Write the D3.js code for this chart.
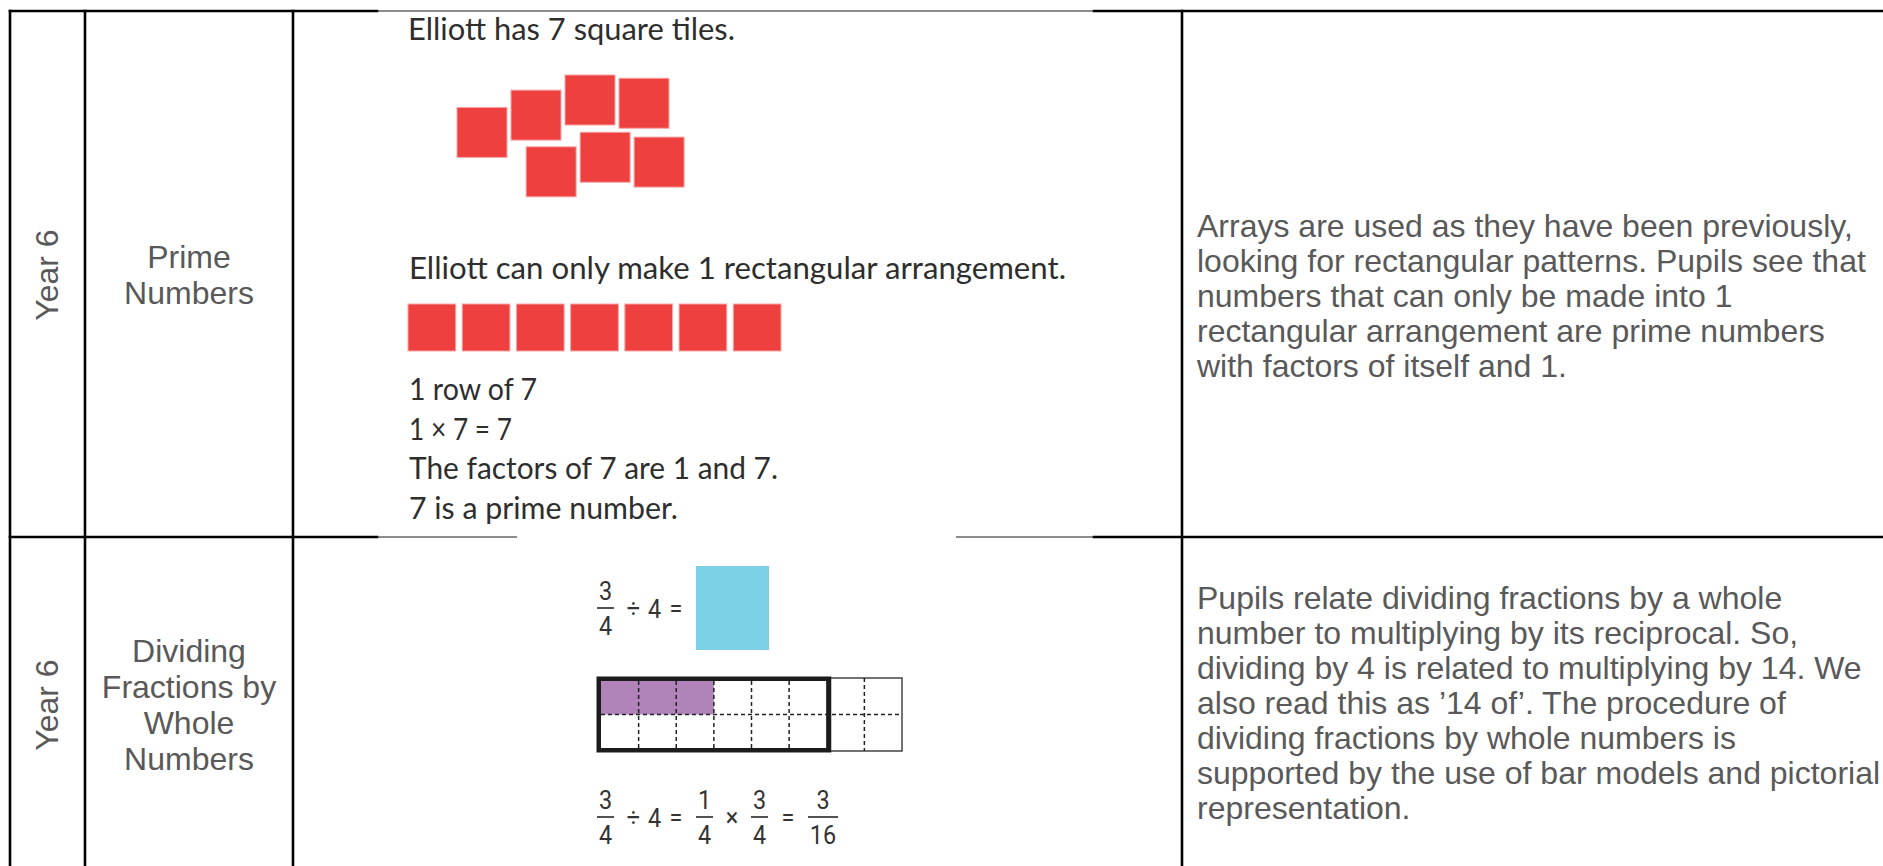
<!DOCTYPE html>
<html>
<head>
<meta charset="utf-8">
<script src="https://cdn.jsdelivr.net/npm/d3@7"></script>
<style>
html,body{margin:0;padding:0;background:#fff;overflow:hidden}
svg{display:block}
</style>
</head>
<body>
<svg id="chart" width="1883" height="866"></svg>
<script>
// ---------------- DATA ----------------
const yearLabels = ["Year 6", "Year 6"];
const topicLines = [
  ["Prime", "Numbers"],
  ["Dividing", "Fractions by", "Whole", "Numbers"]
];
const noteLines = [
  ["Arrays are used as they have been previously,",
   "looking for rectangular patterns. Pupils see that",
   "numbers that can only be made into 1",
   "rectangular arrangement are prime numbers",
   "with factors of itself and 1."],
  ["Pupils relate dividing fractions by a whole",
   "number to multiplying by its reciprocal. So,",
   "dividing by 4 is related to multiplying by 14. We",
   "also read this as \u201914 of\u2019. The procedure of",
   "dividing fractions by whole numbers is",
   "supported by the use of bar models and pictorial",
   "representation."]
];
const primeCaptions = ["Elliott has 7 square tiles.", "Elliott can only make 1 rectangular arrangement."];
const primeFacts = ["1 row of 7", "1 \u00d7 7 = 7", "The factors of 7 are 1 and 7.", "7 is a prime number."];
// loose tiles, in tile-pitch units (column, row)
const looseTileCol = [0, 1, 2, 3, 1.28, 2.28, 3.28];
const looseTileRow = [0.6, 0.28, 0, 0.06, 1.33, 1.06, 1.15];
const tileCount = 7;            // tiles in the single-row arrangement
// bar model: 8 columns x 2 rows, a whole of 6 columns, 3 shaded cells in top row
const barColumns = 8, barRows = 2, wholeColumns = 6, shadedCells = 3;
// equations
const equationTop = [{f: ["3", "4"]}, {o: "\u00f7"}, {n: "4"}, {o: "="}];
const equationBottom = [{f: ["3", "4"]}, {o: "\u00f7"}, {n: "4"}, {o: "="},
  {f: ["1", "4"]}, {o: "\u00d7"}, {f: ["3", "4"]}, {o: "="}, {f: ["3", "16"]}];

// ---------------- LAYOUT ----------------
const W = 1883, H = 866;
const svg = d3.select("#chart");
svg.append("rect").attr("width", W).attr("height", H).attr("fill", "#fff");

const colX = [10, 85, 293, 1182];
const topY = 11, sepY = 537;
const rowCenters = [275, 705];
const noteFirstBaseline = [237, 609];
const noteSpacing = [35, 35];
const greyText = "#595959";
const docFont = "'Liberation Sans', Arial, sans-serif";
const wrFont = "Lato, 'Open Sans', sans-serif";
const eqFont = "Roboto, 'Liberation Sans', sans-serif";
const ink = "#2e2e2e";

// ---------- table grid ----------
const thickLines = [
  [colX[0], topY, 377, topY], [1094, topY, W + 5, topY],
  [colX[0], sepY, 377, sepY], [1094, sepY, W + 5, sepY]
].concat(colX.map(x => [x, topY, x, H + 5]));
const thinLines = [[377, topY, 1094, topY], [377, sepY, 517, sepY], [956, sepY, 1094, sepY]];

svg.append("g").selectAll("line").data(thickLines).join("line")
  .attr("x1", d => d[0]).attr("y1", d => d[1]).attr("x2", d => d[2]).attr("y2", d => d[3])
  .attr("stroke", "#000").attr("stroke-width", 2.6).attr("stroke-linecap", "square");
svg.append("g").selectAll("line").data(thinLines).join("line")
  .attr("x1", d => d[0]).attr("y1", d => d[1]).attr("x2", d => d[2]).attr("y2", d => d[3])
  .attr("stroke", "#1a1a1a").attr("stroke-width", 1.2);

// ---------- text columns ----------
const rows = yearLabels.map((y, i) => ({year: y, topic: topicLines[i], note: noteLines[i],
  c: rowCenters[i], nb: noteFirstBaseline[i], ns: noteSpacing[i]}));
const lh = 36;

const rg = svg.append("g").selectAll("g").data(rows).join("g");
rg.append("text")
  .attr("transform", d => `translate(47,${d.c}) rotate(-90)`)
  .attr("y", 11)
  .attr("text-anchor", "middle")
  .attr("font-family", docFont).attr("font-size", 32).attr("fill", greyText)
  .text(d => d.year);

rg.each(function(d) {
  const g = d3.select(this);
  g.selectAll("text.topic").data(d.topic).join("text").attr("class", "topic")
    .attr("x", 189)
    .attr("y", (t, i) => d.c + (i - (d.topic.length - 1) / 2) * lh + 11)
    .attr("text-anchor", "middle")
    .attr("font-family", docFont).attr("font-size", 32).attr("fill", greyText)
    .text(t => t);
  g.selectAll("text.note").data(d.note).join("text").attr("class", "note")
    .attr("x", 1197)
    .attr("y", (t, i) => d.nb + i * d.ns)
    .attr("font-family", docFont).attr("font-size", 32).attr("fill", greyText)
    .text(t => t);
});

// ---------- Prime numbers picture ----------
const pg = svg.append("g");
const captionLayout = [{x: 408, y: 40, w: 327}, {x: 409, y: 279, w: 657}];
pg.selectAll("text.cap").data(primeCaptions).join("text").attr("class", "cap")
  .attr("x", (d, i) => captionLayout[i].x).attr("y", (d, i) => captionLayout[i].y)
  .attr("textLength", (d, i) => captionLayout[i].w).attr("lengthAdjust", "spacingAndGlyphs")
  .attr("font-family", wrFont).attr("font-size", 30).attr("fill", ink)
  .text(d => d);

const factWidths = [128, 103, 369, 269];
pg.selectAll("text.fact").data(primeFacts).join("text").attr("class", "fact")
  .attr("x", 409).attr("y", (d, i) => 400 + i * 39.7)
  .attr("textLength", (d, i) => factWidths[i]).attr("lengthAdjust", "spacingAndGlyphs")
  .attr("font-family", wrFont).attr("font-size", 30).attr("fill", ink)
  .text(d => d);

const tileFill = "#ef4040", tileEdge = "#f6a5a5";
const tx = d3.scaleLinear().domain([0, 1]).range([457, 511]);
const ty = d3.scaleLinear().domain([0, 1]).range([75, 129]);
pg.selectAll("rect.loose").data(looseTileCol.map((c, i) => ({c, r: looseTileRow[i]}))).join("rect")
  .attr("class", "loose")
  .attr("x", d => tx(d.c)).attr("y", d => ty(d.r)).attr("width", 50).attr("height", 50)
  .attr("fill", tileFill).attr("stroke", tileEdge).attr("stroke-width", 1);

const rowBand = d3.scaleBand().domain(d3.range(tileCount)).range([408, 781]).paddingInner(0.12);
pg.selectAll("rect.rowtile").data(d3.range(tileCount)).join("rect").attr("class", "rowtile")
  .attr("x", d => rowBand(d)).attr("y", 304).attr("width", rowBand.bandwidth()).attr("height", 47)
  .attr("fill", tileFill).attr("stroke", tileEdge).attr("stroke-width", 1);

// ---------- Dividing fractions picture ----------
const fg = svg.append("g");
const eqSize = 26;
function tokenWidth(t) {
  if (t.f) return 13 * d3.max(t.f, s => s.length) + 4;
  if (t.o) return t.o === "=" ? 13 : (t.o === "\u00d7" ? 11 : 12);
  return 12;
}
function layoutEq(tokens, x0) {
  let x = x0;
  return tokens.map((t, i) => {
    if (i > 0) {
      const prev = tokens[i - 1];
      x += (prev.f || t.f) ? 13.5 : 9;
    }
    const w = tokenWidth(t);
    const out = Object.assign({}, t, {x, w, cx: x + w / 2});
    x += w;
    return out;
  });
}
function eqText(g, x, y, s) {
  g.append("text").attr("transform", `translate(${x},${y}) scale(0.9,1)`)
    .attr("text-anchor", "middle")
    .attr("font-family", eqFont).attr("font-size", eqSize).attr("fill", "#333").text(s);
}
function drawEq(tokens, barY) {
  const laid = layoutEq(tokens, 597);
  const g = fg.append("g");
  laid.forEach(t => {
    if (t.f) {
      eqText(g, t.cx, barY - 8.5, t.f[0]);
      g.append("line").attr("x1", t.x).attr("x2", t.x + t.w).attr("y1", barY).attr("y2", barY)
        .attr("stroke", "#333").attr("stroke-width", 1.7);
      eqText(g, t.cx, barY + 27, t.f[1]);
    } else {
      eqText(g, t.cx, barY + (t.n ? 9.5 : 8.5), t.o || t.n);
    }
  });
  return laid;
}
const eq1 = drawEq(equationTop, 608);
const last = eq1[eq1.length - 1];
fg.append("rect").attr("x", last.x + last.w + 13.5).attr("y", 566).attr("width", 73).attr("height", 84)
  .attr("fill", "#7bd0e6");
drawEq(equationBottom, 817);

// bar model
const bx = d3.scaleLinear().domain([0, barColumns]).range([601, 902]);
const bmTop = 681, rowH = 33.5;
const by = d3.scaleLinear().domain([0, barRows]).range([bmTop, bmTop + barRows * rowH]);
const bm = fg.append("g");
bm.append("rect").attr("x", bx(0)).attr("y", by(0)).attr("width", bx(shadedCells) - bx(0)).attr("height", by(1) - by(0))
  .attr("fill", "#b083b9");
bm.append("rect").attr("x", bx(wholeColumns)).attr("y", by(0) - 3)
  .attr("width", bx(barColumns) - bx(wholeColumns)).attr("height", by(barRows) - by(0) + 6)
  .attr("fill", "none").attr("stroke", "#444").attr("stroke-width", 1.5);
const dash = "4,3";
bm.selectAll("line.v").data(d3.range(1, barColumns).filter(c => c !== wholeColumns)).join("line").attr("class", "v")
  .attr("x1", d => bx(d)).attr("x2", d => bx(d))
  .attr("y1", d => d < wholeColumns ? by(0) : by(0) - 3)
  .attr("y2", d => d < wholeColumns ? by(barRows) : by(barRows) + 3)
  .attr("stroke", "#222").attr("stroke-width", 1.5).attr("stroke-dasharray", dash);
bm.selectAll("line.h").data(d3.range(1, barRows)).join("line").attr("class", "h")
  .attr("x1", bx(0)).attr("x2", bx(barColumns)).attr("y1", d => by(d)).attr("y2", d => by(d))
  .attr("stroke", "#222").attr("stroke-width", 1.5).attr("stroke-dasharray", dash);
bm.append("rect").attr("x", bx(0) - 2.25).attr("y", by(0) - 2.25)
  .attr("width", bx(wholeColumns) - bx(0) + 4.5).attr("height", by(barRows) - by(0) + 4.5)
  .attr("fill", "none").attr("stroke", "#1c1c1c").attr("stroke-width", 4.5);
</script>
</body>
</html>
